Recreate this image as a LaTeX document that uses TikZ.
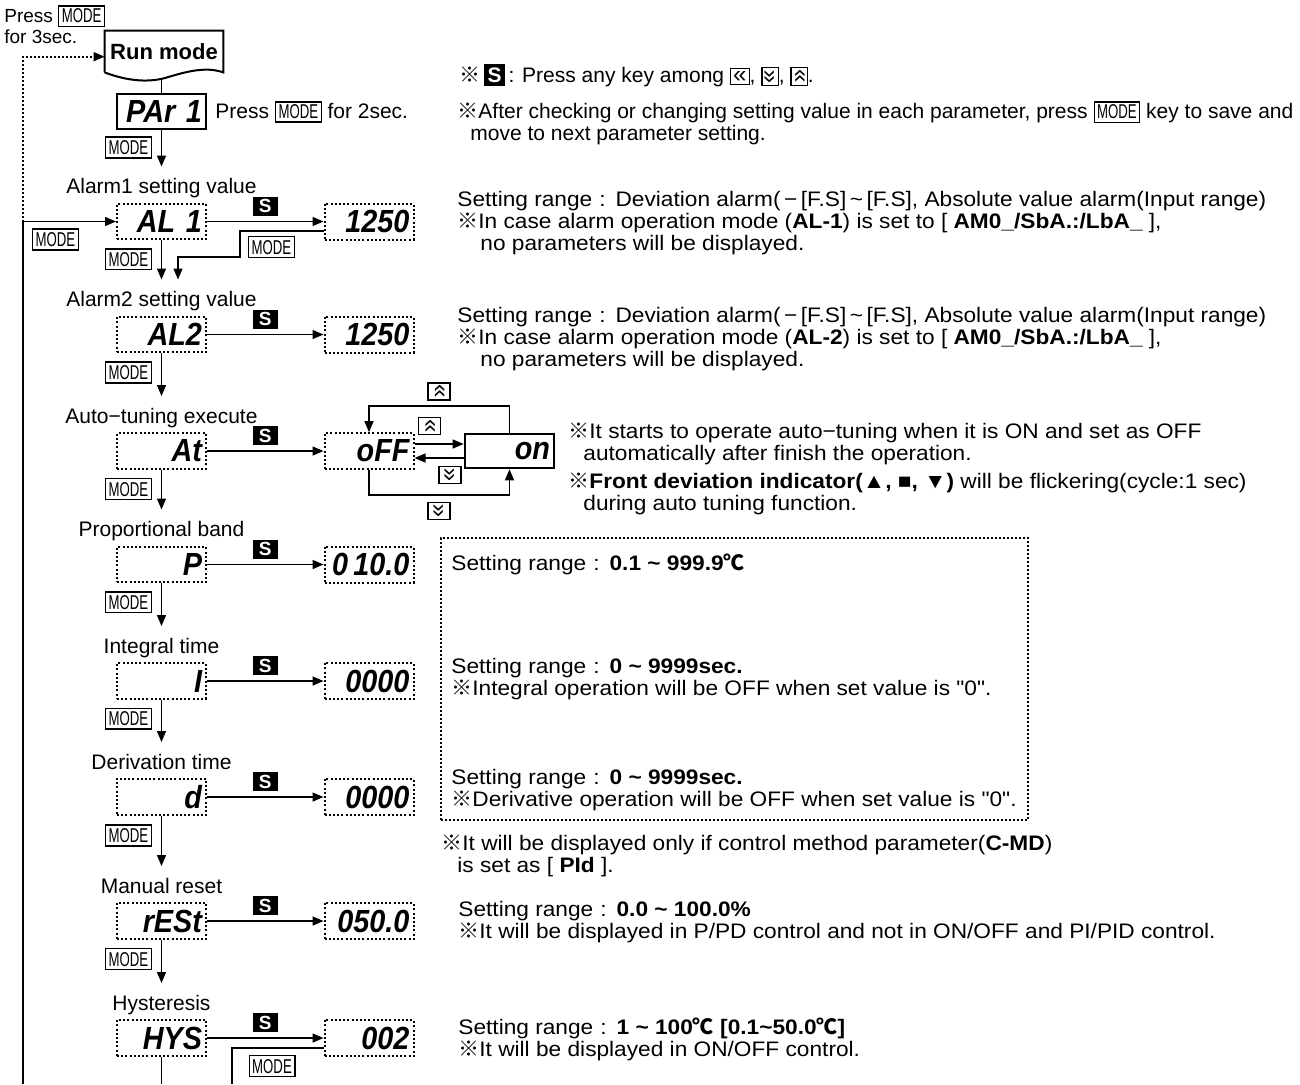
\documentclass[tikz,border=0pt]{standalone}
\usepackage{fontspec}
\usepackage{graphicx}
\setmainfont{Liberation Sans}
\newfontfamily\cjk{Noto Sans CJK KR}
\newfontfamily\notefont{Liberation Sans}[FakeStretch=1.08]
\newfontfamily\qfont{Liberation Sans}[FakeStretch=1.08, Ligatures=TeXOff]
\newfontfamily\narrowfont{Liberation Sans}[FakeStretch=0.66]
\newfontfamily\lcdfont{Liberation Sans}[FakeStretch=0.9]
\usetikzlibrary{arrows.meta,positioning}

\newcommand\refmk{{\cjk ※}}
\newcommand\degc{{\cjk ℃}}
\newcommand\tld{\textasciitilde}
\newcommand\dq{{\qfont\symbol{34}}}
\newcommand\sr{Setting range\hspace{3.5pt}:\hspace{5pt}}
\newcommand\modebox{{\setlength\fboxsep{1.2pt}\setlength\fboxrule{0.6pt}\fbox{\narrowfont\fontsize{10}{10}\selectfont MODE}}}
\newcommand\skey{{\setlength\fboxsep{1.8pt}\colorbox{black}{\color{white}\bfseries S}}}
\newcommand\chevbox[1]{{\setlength\fboxsep{1pt}\setlength\fboxrule{0.6pt}\fbox{\fontsize{12}{12}\selectfont#1}}}
\newcommand\kleft{\chevbox{«}}
\newcommand\kdown{\chevbox{\rotatebox[origin=c]{90}{«}}}
\newcommand\kup{\chevbox{\rotatebox[origin=c]{-90}{«}}}

\begin{document}
\begin{tikzpicture}[x=0.5pt, y=-0.5pt,
  disp/.style={draw, line width=1pt, dash pattern=on 1pt off 1.1pt,
               minimum width=44.5pt, minimum height=17pt, inner xsep=2pt,
               text width=40.5pt, align=right,
               font=\lcdfont\bfseries\itshape\fontsize{16}{16}\selectfont},
  solidbox/.style={disp, solid, line width=1.3pt},
  lbl/.style={font=\fontsize{10.5}{11}\selectfont, anchor=base, inner sep=1pt},
  note/.style={font=\notefont\fontsize{10.5}{11}\selectfont, anchor=north west,
               align=left, inner sep=0pt},
  modekey/.style={draw, line width=0.7pt,
                  font=\narrowfont\fontsize{10}{10}\selectfont,
                  inner xsep=1.5pt, inner ysep=1.6pt, text height=7.2pt,
                  text depth=0pt},
  skeyn/.style={fill=black, text=white, font=\bfseries\fontsize{9.5}{9.5}\selectfont,
                minimum width=12.5pt, minimum height=9.5pt, inner sep=0pt},
  chevkey/.style={draw, line width=0.6pt, minimum width=11pt,
                  minimum height=8.5pt, inner sep=0.5pt,
                  font=\fontsize{12}{12}\selectfont},
  arr/.style={draw, line width=0.7pt, -{Triangle[length=5.5pt, width=4.5pt]}},
  ln/.style={draw, line width=0.7pt},
  dots/.style={line width=0.8pt, dash pattern=on 0.8pt off 1.2pt}
]
\useasboundingbox (0,0) rectangle (1300,1084);

% entry from run mode
\node[note, font=\fontsize{9.5}{10.5}\selectfont] (press) at (4,5)
  {Press \modebox\\for 3sec.};
\node[font=\bfseries\fontsize{11}{11}\selectfont, minimum width=59pt,
      minimum height=20.5pt, inner sep=0pt] (run) at (164,51.5) {Run mode};
\draw[line width=1pt] (run.south west) -- (run.north west) -- (run.north east)
  -- (run.south east) .. controls (205,66) and (185,72) .. (165,78)
  .. controls (150,82) and (130,82) .. (run.south west);
\coordinate (runbot) at (161.5,79);

\node[solidbox] (par) at (161.5,111.5) {PAr 1};
\node[lbl, anchor=west, font=\fontsize{10.5}{11}\selectfont] (par-note) at (213,112)
  {Press \modebox\ for 2sec.};
\draw[ln] (runbot) -- (par);
\node[modekey, below left=3pt and 4.75pt of par.south] (par-mk) {MODE};
\coordinate (par-tip) at (161.5,166.5);
\draw[arr] (par) -- (par-tip);

% parameter rows
\foreach \nm/\y/\lab/\pv/\val in {
    al1/221.5/{Alarm1 setting value}/{AL 1}/1250,
    al2/334.5/{Alarm2 setting value}/{AL2}/1250,
    at/451/{Auto−tuning execute}/{At}/{oFF},
    p/564.5/{Proportional band}/{P}/{0\,10.0},
    i/681/{Integral time}/{I}/{0000},
    d/797/{Derivation time}/{d}/{0000},
    rest/921/{Manual reset}/{rESt}/{050.0},
    hys/1038/{Hysteresis}/{HYS}/{002}}{
  \node[lbl] (\nm-lbl) at (161.5,\y-28) {\lab};
  \node[disp] (\nm) at (161.5,\y) {\pv};
  \node[disp] (\nm-v) at (369,\y) {\val};
  \draw[arr] (\nm) -- node[skeyn, above=2.5pt] (\nm-s) {S} (\nm-v);
}

\foreach \nm/\ny in {al1/334.5, al2/451, at/564.5, p/681, i/797, d/921, rest/1038}{
  \node[modekey, below left=4pt and 4.75pt of \nm.south] (\nm-mk) {MODE};
  \coordinate (\nm-tip) at (161.5,\ny-55);
  \draw[arr] (\nm) -- (\nm-tip);
}

% return to the first parameter
\coordinate (loopfoot) at (23,1084);
\coordinate (junc) at (23,221.5);
\draw[arr] (loopfoot) |- (al1);
\draw[dots, -{Triangle[length=5.5pt, width=4.5pt]}] (junc) |- ([yshift=-2.6pt]run.west);
\node[modekey] (loop-mk) at (55.5,239.5) {MODE};

\draw[arr] ([yshift=-4.75pt]al1-v.west) -| (240,257) -| (178,279.5);
\node[modekey] (al1-mk2) at (271.5,247) {MODE};

\draw[ln] (hys) -- (hys |- loopfoot);
\draw[ln] ([yshift=-5pt]hys-v.west) -| (232,1084);
\node[modekey] (hys-mk) at (272,1066) {MODE};

% auto tuning on/off
\node[solidbox] (on) at (509.5,451) {on};
\draw[arr] ([yshift=3.5pt]at-v.east) -- ([yshift=3.5pt]on.west);
\draw[arr] ([yshift=-3.5pt]on.west) -- ([yshift=-3.5pt]at-v.east);
\draw[arr] (on.north) |- ([yshift=13pt]at-v.north) -- (at-v.north);
\draw[arr] (at-v.south) -- ++(0,25) -| (on.south);
\node[chevkey] (up1) at (439,391.5) {\rotatebox[origin=c]{-90}{«}};
\node[chevkey] (up2) at (429.5,426) {\rotatebox[origin=c]{-90}{«}};
\node[chevkey] (dn1) at (450,475) {\rotatebox[origin=c]{90}{«}};
\node[chevkey] (dn2) at (439,511) {\rotatebox[origin=c]{90}{«}};

% notes
\node[lbl, anchor=base west] (n-s) at (457,82)
  {\refmk\,\skey\,: Press any key among \kleft, \kdown, \kup.};
\node[lbl, anchor=north west, align=left, inner sep=0pt] (n-mode) at (457,101)
  {\refmk After checking or changing setting value in each parameter, press \modebox\ key to save and\\
   \hspace*{6.5pt}move to next parameter setting.};
\foreach \k/\y in {1/191, 2/307}{
  \node[note] (n-al\k) at (457,\y)
    {\sr Deviation alarm(\,−\,[F.S]\,\tld\,[F.S], Absolute value alarm(Input range)\\
     \refmk In case alarm operation mode ({\bfseries AL-\k}) is set to [ {\bfseries AM0\_/SbA.:/LbA\_} ],\\
     \hspace*{11.5pt}no parameters will be displayed.};
}
\node[note] (n-at) at (568,423)
  {\refmk It starts to operate auto−tuning when it is ON and set as OFF\\
   \hspace*{7.5pt}automatically after finish the operation.\\[3pt]
   \refmk{\bfseries Front deviation indicator(▲, ■, ▼)} will be flickering(cycle:1 sec)\\
   \hspace*{7.5pt}during auto tuning function.};

\node[draw, dots, minimum width=293.5pt, minimum height=141pt, inner sep=0pt]
  (pidbox) at (734.5,679) {};
\node[note, anchor=base west] (n-p) at (451,570)
  {\sr{\bfseries 0.1 \tld\ 999.9\degc}};
\node[note] (n-i) at (451,658)
  {\sr{\bfseries 0 \tld\ 9999sec.}\\
   \refmk Integral operation will be OFF when set value is \dq0\dq.};
\node[note] (n-d) at (451,769)
  {\sr{\bfseries 0 \tld\ 9999sec.}\\
   \refmk Derivative operation will be OFF when set value is \dq0\dq.};
\node[note] (n-ctrl) at (441,835)
  {\refmk It will be displayed only if control method parameter({\bfseries C-MD})\\
   \hspace*{8pt}is set as [ {\bfseries PId} ].};
\node[note] (n-rest) at (458,901)
  {\sr{\bfseries 0.0 \tld\ 100.0\%}\\
   \refmk It will be displayed in P/PD control and not in ON/OFF and PI/PID control.};
\node[note] (n-hys) at (458,1018)
  {\sr{\bfseries 1 \tld\ 100\degc\ [0.1\tld 50.0\degc]}\\
   \refmk It will be displayed in ON/OFF control.};
\end{tikzpicture}
\end{document}
